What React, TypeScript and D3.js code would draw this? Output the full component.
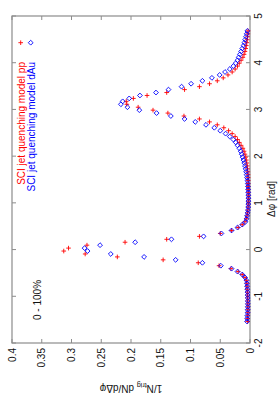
import React from 'react';
import * as d3 from 'd3';

const PHI_TICKS = [-2, -1, 0, 1, 2, 3, 4, 5];
const PHI_TICK_LABELS = ['-2', '-1', '0', '1', '2', '3', '4', '5'];
const YIELD_TICKS = [0, 0.05, 0.1, 0.15, 0.2, 0.25, 0.3, 0.35, 0.4];
const YIELD_TICK_LABELS = ['0', '0.05', '0.1', '0.15', '0.2', '0.25', '0.3', '0.35', '0.4'];

const BIN_COUNT = 100;
const PHI_LOW = -Math.PI / 2;
const PHI_HIGH = (3 * Math.PI) / 2;

const PP = [
  0.004, 0.004, 0.0038, 0.0036, 0.0035, 0.0035, 0.0036, 0.0038, 0.004, 0.0042,
  0.0045, 0.0048, 0.005, 0.0052, 0.006, 0.0085, 0.013, 0.02, 0.032, 0.052,
  0.087, 0.146, 0.223, 0.277, 0.313, 0.305, 0.274, 0.21, 0.14, 0.085,
  0.05, 0.031, 0.02, 0.013, 0.0085, 0.0062, 0.005, 0.0042, 0.0036, 0.0032,
  0.003, 0.0029, 0.0028, 0.0028, 0.0029, 0.003, 0.003, 0.003, 0.003, 0.0031,
  0.0033, 0.0036, 0.0041, 0.0047, 0.0054, 0.0062, 0.0072, 0.0085, 0.01, 0.012,
  0.015, 0.018, 0.021, 0.025, 0.03, 0.036, 0.044, 0.055, 0.068, 0.085,
  0.111, 0.138, 0.163, 0.188, 0.207, 0.208, 0.196, 0.173, 0.14, 0.11,
  0.085, 0.068, 0.055, 0.045, 0.037, 0.03, 0.025, 0.021, 0.018, 0.015,
  0.012, 0.01, 0.0085, 0.0072, 0.0062, 0.0054, 0.0047, 0.0041, 0.0036, 0.0033,
];

const DAU = [
  0.005, 0.0048, 0.0045, 0.0042, 0.004, 0.0038, 0.0037, 0.0037, 0.0038, 0.004,
  0.0042, 0.0045, 0.0048, 0.0052, 0.0058, 0.0084, 0.013, 0.021, 0.031, 0.049,
  0.08, 0.125, 0.178, 0.234, 0.273, 0.278, 0.252, 0.193, 0.132, 0.078,
  0.048, 0.031, 0.021, 0.013, 0.0075, 0.0058, 0.0048, 0.004, 0.0034, 0.003,
  0.0028, 0.0027, 0.0027, 0.0028, 0.003, 0.0032, 0.0035, 0.0039, 0.0044, 0.005,
  0.0057, 0.0065, 0.0074, 0.0085, 0.0097, 0.011, 0.0125, 0.014, 0.0158, 0.018,
  0.021, 0.024, 0.028, 0.034, 0.041, 0.05, 0.06, 0.074, 0.092, 0.11,
  0.133, 0.157, 0.186, 0.206, 0.217, 0.214, 0.203, 0.185, 0.158, 0.137,
  0.115, 0.099, 0.08, 0.064, 0.051, 0.042, 0.034, 0.028, 0.024, 0.021,
  0.019, 0.017, 0.015, 0.013, 0.011, 0.0095, 0.0082, 0.0068, 0.0056, 0.0045,
];

const SERIES_LABELS = ['SCI jet quenching model pp', 'SCI jet quenching model dAu'];
const CENTRALITY = '0 - 100%';

const RED = '#ff0000';
const BLUE = '#0000ff';
const AXIS = '#8c8c8c';
const FONT = '"Liberation Sans", Arial, Helvetica, sans-serif';

const plusPath = (s: number) => `M${-s},0H${s}M0,${-s}V${s}`;
const diamondPath = (s: number) => `M0,${-s}L${s},0L0,${s}L${-s},0Z`;

export default function App() {
  // chart is drawn in its own (unrotated) frame of 400 x 280, then turned 90° counter-clockwise
  const x = d3.scaleLinear().domain([-2, 5]).range([57, 384]);
  const y = d3.scaleLinear().domain([0, 0.4]).range([250, 12]);
  const step = (PHI_HIGH - PHI_LOW) / BIN_COUNT;
  const bins = d3.range(BIN_COUNT).map((i) => PHI_LOW + (i + 0.5) * step);

  const [x0, x1] = x.range();
  const [yb, yt] = y.range();
  const tl = 4;

  return (
    <svg
      width={280}
      height={400}
      style={{ position: 'absolute', left: 0, top: 0, background: '#fff' }}
      fontFamily={FONT}
    >
      <rect x={0} y={0} width={280} height={400} fill="#fff" />
      <g transform="translate(0,400) rotate(-90)">
        {/* ticks */}
        {PHI_TICKS.map((t) => (
          <g key={'xt' + t} stroke={AXIS} strokeWidth={1}>
            <line x1={x(t)} x2={x(t)} y1={yb} y2={yb - tl} />
            <line x1={x(t)} x2={x(t)} y1={yt} y2={yt + tl} />
          </g>
        ))}
        {YIELD_TICKS.map((t) => (
          <g key={'yt' + t} stroke={AXIS} strokeWidth={1}>
            <line x1={x0} x2={x0 + tl} y1={y(t)} y2={y(t)} />
            <line x1={x1} x2={x1 - tl} y1={y(t)} y2={y(t)} />
          </g>
        ))}
        <rect
          x={x0}
          y={yt}
          width={x1 - x0}
          height={yb - yt}
          fill="none"
          stroke={AXIS}
          strokeWidth={1.2}
        />
        {/* tick labels */}
        {PHI_TICKS.map((t, i) => (
          <text key={'xl' + t} x={x(t)} y={262} textAnchor="middle" fontSize={10} fill="#111">
            {PHI_TICK_LABELS[i]}
          </text>
        ))}
        {YIELD_TICKS.map((t, i) => (
          <text key={'yl' + t} x={52} y={y(t)} dy="0.35em" textAnchor="end" fontSize={10} fill="#111">
            {YIELD_TICK_LABELS[i]}
          </text>
        ))}
        {/* axis titles */}
        <text x={201} y={274.5} textAnchor="middle" fontSize={10} fill="#111">
          Δφ [rad]
        </text>
        <text transform="translate(15,131) rotate(-90)" textAnchor="middle" fontSize={10} fill="#111">
          1/N
          <tspan fontSize={7} dy={2}>trig</tspan>
          <tspan dy={-2}> dN/dΔφ</tspan>
        </text>
        {/* centrality */}
        <text x={80} y={40.5} fontSize={10} fill="#111">
          {CENTRALITY}
        </text>
        {/* data */}
        {PP.map((v, i) => (
          <path
            key={'pp' + i}
            d={plusPath(2.3)}
            transform={`translate(${x(bins[i])},${y(v)})`}
            stroke={RED}
            strokeWidth={0.9}
            fill="none"
          />
        ))}
        {DAU.map((v, i) => (
          <path
            key={'da' + i}
            d={diamondPath(2.4)}
            transform={`translate(${x(bins[i])},${y(v)})`}
            stroke={BLUE}
            strokeWidth={0.9}
            fill="none"
          />
        ))}
        {/* legend */}
        <text x={338} y={25} textAnchor="end" fontSize={10} fill={RED}>
          {SERIES_LABELS[0]}
        </text>
        <path d={plusPath(2.3)} transform="translate(357.3,20.7)" stroke={RED} strokeWidth={0.9} fill="none" />
        <text x={338} y={35} textAnchor="end" fontSize={10} fill={BLUE}>
          {SERIES_LABELS[1]}
        </text>
        <path d={diamondPath(2.4)} transform="translate(357.3,30.7)" stroke={BLUE} strokeWidth={0.9} fill="none" />
      </g>
    </svg>
  );
}
